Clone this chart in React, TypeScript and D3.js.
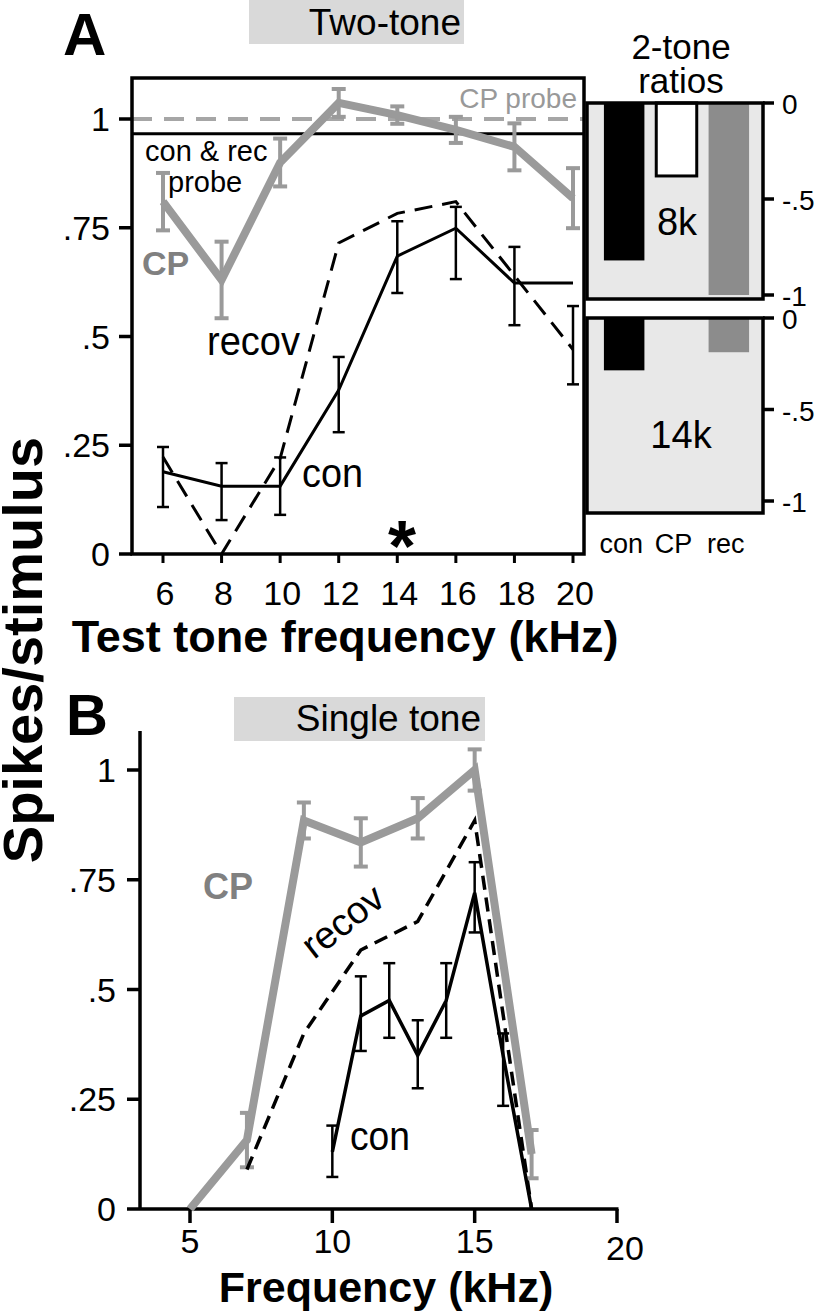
import React from 'react';
import * as d3 from 'd3';

// ---------- Panel A : two-tone ----------
const freqA = [6, 8, 10, 12, 14, 16, 18, 20];
const cpA = [0.81, 0.63, 0.9, 1.037, 1.009, 0.975, 0.936, 0.818];
const cpAErr = [0.066, 0.088, 0.055, 0.032, 0.02, 0.03, 0.054, 0.069];
const conA = [0.189, 0.156, 0.156, 0.377, 0.685, 0.749, 0.623, 0.623];
const conAErrLo = [0.108, 0.078, 0.09, 0.28, 0.6, 0.632, 0.526, 0.39];
const conAErrHi = [0.246, 0.209, 0.222, 0.453, 0.765, 0.798, 0.706, 0.57];
const recovAFreq = [6, 8, 10, 12, 14, 16, 20];
const recovA = [0.223, 0, 0.22, 0.715, 0.783, 0.81, 0.47];
const cpProbe = 1.0;
const conRecProbe = 0.966;
const yTicks = [0, 0.25, 0.5, 0.75, 1];
const yTickLabels = ['0', '.25', '.5', '.75', '1'];
const xTicksA = [6, 8, 10, 12, 14, 16, 18, 20];

// ---------- 2-tone ratio bars ----------
const ratioCats = ['con', 'CP', 'rec'];
const ratio8k = [-0.82, -0.38, -1.0];
const ratio14k = [-0.286, 0, -0.187];
const ratioTicks = [0, -0.5, -1];
const ratioTickLabels = ['0', '-.5', '-1'];
const ratioFills = ['#000000', '#ffffff', '#8c8c8c'];

// ---------- Panel B : single tone ----------
const freqBcp = [5, 7, 9, 11, 13, 15, 17];
const cpB = [0, 0.157, 0.885, 0.835, 0.89, 1.0, 0.125];
const cpBErr = [0, 0.062, 0.041, 0.055, 0.046, 0.047, 0.055];
const freqBcon = [10, 11, 12, 13, 14, 15, 16, 17];
const conB = [0.13, 0.44, 0.475, 0.35, 0.475, 0.72, 0.35, 0];
const conBErrLo = [0.073, 0.36, 0.39, 0.275, 0.39, 0.63, 0.235, NaN];
const conBErrHi = [0.19, 0.53, 0.56, 0.43, 0.56, 0.79, 0.4, NaN];
const freqBrec = [7, 9, 11, 13, 15, 17];
const recB = [0.09, 0.4, 0.59, 0.655, 0.885, 0];
const xTicksB = [5, 10, 15, 20];

const FONT = '"Liberation Sans", Arial, Helvetica, sans-serif';
const GRAY = '#9a9a9a';

function ErrBar({ x, y1, y2, cap, color, w }: any) {
  return (
    <g stroke={color} strokeWidth={w}>
      <line x1={x} x2={x} y1={y1} y2={y2} />
      <line x1={x - cap / 2} x2={x + cap / 2} y1={y1} y2={y1} />
      <line x1={x - cap / 2} x2={x + cap / 2} y1={y2} y2={y2} />
    </g>
  );
}

export default function App() {
  // scales panel A
  const xA = d3.scaleLinear().domain([6, 20]).range([163, 573]);
  const yA = d3.scaleLinear().domain([0, 1]).range([554, 119]);
  const boxA = { x0: 132, x1: 584, y0: 78, y1: 554 };

  const lineA = d3.line<[number, number]>().x((d) => xA(d[0])).y((d) => yA(d[1]));
  const cpAPath = lineA(freqA.map((f, i) => [f, cpA[i]]));
  const conAPath = lineA(freqA.map((f, i) => [f, conA[i]]));
  const recAPath = lineA(recovAFreq.map((f, i) => [f, recovA[i]]));

  // bars
  const xBar = d3.scaleBand().domain(ratioCats).range([598, 755]).paddingInner(0.2264).paddingOuter(0.113);
  const y8k = d3.scaleLinear().domain([0, -1]).range([103, 295]);
  const y14k = d3.scaleLinear().domain([0, -1]).range([318, 501]);
  const barPanels = [
    { y: y8k, top: 103, bottom: 299, vals: ratio8k, label: '8k', lx: 677, ly: 235 },
    { y: y14k, top: 318, bottom: 513, vals: ratio14k, label: '14k', lx: 681, ly: 448 },
  ];
  const frameX0 = 587;
  const frameX1 = 763;

  // scales panel B
  const xB = d3.scaleLinear().domain([5, 20]).range([190, 617]);
  const yB = d3.scaleLinear().domain([0, 1]).range([1209, 770]);
  const lineB = d3.line<[number, number]>().x((d) => xB(d[0])).y((d) => yB(d[1]));
  const cpBPath = lineB(freqBcp.map((f, i) => [f, cpB[i]]));
  const conBPath = lineB(freqBcon.map((f, i) => [f, conB[i]]));
  const recBPath = lineB(freqBrec.map((f, i) => [f, recB[i]]));
  const axisBx = 140;

  return (
    <svg
      width={819}
      height={1312}
      style={{ position: 'absolute', left: 0, top: 0, background: '#fff' }}
      fontFamily={FONT}
    >
      <rect x={0} y={0} width={819} height={1312} fill="#fff" />

      {/* ================= Panel A ================= */}
      <text x={63} y={55} fontSize={60} fontWeight="bold">A</text>
      <rect x={249} y={0} width={215} height={44} fill="#d9d9d9" />
      <text x={461} y={35} fontSize={37} textAnchor="end">Two-tone</text>

      {/* probe lines */}
      <line x1={boxA.x0} x2={boxA.x1} y1={yA(cpProbe)} y2={yA(cpProbe)} stroke="#a6a6a6" strokeWidth={4} strokeDasharray="20 12" />
      <line x1={boxA.x0} x2={boxA.x1} y1={yA(conRecProbe)} y2={yA(conRecProbe)} stroke="#000" strokeWidth={3} />
      <text x={577} y={108} fontSize={28} fill="#999" textAnchor="end">CP probe</text>
      <text x={145} y={161} fontSize={29}>con &amp; rec</text>
      <text x={168} y={192} fontSize={29}>probe</text>

      {/* box */}
      <rect x={boxA.x0} y={boxA.y0} width={boxA.x1 - boxA.x0} height={boxA.y1 - boxA.y0} fill="none" stroke="#000" strokeWidth={3.5} />

      {/* y ticks */}
      {yTicks.map((t, i) => (
        <g key={'ya' + i}>
          <line x1={boxA.x0 - 13} x2={boxA.x0} y1={yA(t)} y2={yA(t)} stroke="#000" strokeWidth={3.5} />
          <text x={110} y={yA(t)} dy="0.36em" fontSize={34} textAnchor="end">{yTickLabels[i]}</text>
        </g>
      ))}
      {/* x ticks */}
      {xTicksA.map((t) => (
        <g key={'xa' + t}>
          <line x1={xA(t)} x2={xA(t)} y1={boxA.y1} y2={boxA.y1 + 9} stroke="#000" strokeWidth={3} />
          <text x={xA(t) + 2} y={605} fontSize={34} textAnchor="middle">{t}</text>
        </g>
      ))}
      <text x={345} y={652} fontSize={45} fontWeight="bold" textAnchor="middle">Test tone frequency (kHz)</text>

      {/* CP line */}
      {freqA.map((f, i) => (
        <ErrBar key={'cpe' + f} x={xA(f)} y1={yA(cpA[i] + cpAErr[i])} y2={yA(cpA[i] - cpAErr[i])} cap={14} color={GRAY} w={4} />
      ))}
      <path d={cpAPath || ''} fill="none" stroke={GRAY} strokeWidth={8} strokeLinejoin="miter" />
      {/* con */}
      {freqA.map((f, i) => (
        <ErrBar key={'cne' + f} x={xA(f)} y1={yA(conAErrHi[i])} y2={yA(conAErrLo[i])} cap={12} color="#000" w={2.5} />
      ))}
      <path d={conAPath || ''} fill="none" stroke="#000" strokeWidth={3} />
      {/* recov */}
      <path d={recAPath || ''} fill="none" stroke="#000" strokeWidth={3} strokeDasharray="18 10" />

      <text x={142} y={275} fontSize={34} fontWeight="bold" fill="#808080">CP</text>
      <text x={207} y={355} fontSize={40} textLength={93} lengthAdjust="spacingAndGlyphs">recov</text>
      <text x={302} y={487} fontSize={40} textLength={61} lengthAdjust="spacingAndGlyphs">con</text>
      <text x={402} y={571} fontSize={72} fontWeight="bold" textAnchor="middle">*</text>

      {/* ================= Ratio bars ================= */}
      <text x={681} y={59} fontSize={35} textAnchor="middle">2-tone</text>
      <text x={681} y={93} fontSize={35} textAnchor="middle">ratios</text>
      {barPanels.map((p, pi) => (
        <g key={'bp' + pi}>
          <rect x={frameX0} y={p.top} width={frameX1 - frameX0} height={p.bottom - p.top} fill="#e8e8e8" />
          {ratioCats.map((c, i) =>
            p.vals[i] !== 0 ? (
              <rect
                key={c}
                x={xBar(c)}
                y={p.y(0)}
                width={xBar.bandwidth()}
                height={p.y(p.vals[i]) - p.y(0)}
                fill={ratioFills[i]}
                stroke={i === 1 ? '#000' : 'none'}
                strokeWidth={3}
              />
            ) : null
          )}
          <rect x={frameX0} y={p.top} width={frameX1 - frameX0} height={p.bottom - p.top} fill="none" stroke="#000" strokeWidth={3.5} />
          {ratioTicks.map((t, i) => (
            <g key={'rt' + i}>
              <line x1={frameX1} x2={frameX1 + 11} y1={p.y(t)} y2={p.y(t)} stroke="#000" strokeWidth={3.5} />
              <text x={782} y={p.y(t)} dy="0.4em" fontSize={28}>{ratioTickLabels[i]}</text>
            </g>
          ))}
          <text x={p.lx} y={p.ly} fontSize={38} textAnchor="middle">{p.label}</text>
        </g>
      ))}
      {ratioCats.map((c) => (
        <text key={'bl' + c} x={(xBar(c) || 0) + xBar.bandwidth() / 2 - 3} y={553} fontSize={27} textAnchor="middle">{c}</text>
      ))}

      {/* ================= Y axis title ================= */}
      <text transform="translate(42,650) rotate(-90)" fontSize={56} fontWeight="bold" textAnchor="middle">Spikes/stimulus</text>

      {/* ================= Panel B ================= */}
      <text x={66} y={735} fontSize={58} fontWeight="bold">B</text>
      <rect x={234} y={697} width={251} height={44} fill="#d9d9d9" />
      <text x={481} y={731} fontSize={37} textAnchor="end">Single tone</text>

      <line x1={axisBx} x2={axisBx} y1={731} y2={yB(0)} stroke="#000" strokeWidth={3.5} />
      <line x1={axisBx} x2={xB(20) + 1.5} y1={yB(0)} y2={yB(0)} stroke="#000" strokeWidth={3.5} />
      {yTicks.map((t, i) => (
        <g key={'yb' + i}>
          <line x1={axisBx - 13} x2={axisBx} y1={yB(t)} y2={yB(t)} stroke="#000" strokeWidth={3.5} />
          <text x={116} y={yB(t)} dy="0.36em" fontSize={34} textAnchor="end">{yTickLabels[i]}</text>
        </g>
      ))}
      {xTicksB.map((t) => (
        <g key={'xb' + t}>
          <line x1={xB(t)} x2={xB(t)} y1={yB(0)} y2={yB(0) + 14} stroke="#000" strokeWidth={3.5} />
          <text x={xB(t) + (t === 20 ? 8 : 0)} y={t === 20 ? 1260 : 1253} fontSize={34} textAnchor="middle">{t}</text>
        </g>
      ))}
      <text x={386} y={1302} fontSize={43} fontWeight="bold" textAnchor="middle">Frequency (kHz)</text>

      {/* CP */}
      {freqBcp.map((f, i) =>
        cpBErr[i] > 0 ? (
          <ErrBar key={'cpbe' + f} x={xB(f)} y1={yB(cpB[i] + cpBErr[i])} y2={yB(cpB[i] - cpBErr[i])} cap={14} color={GRAY} w={4} />
        ) : null
      )}
      <path d={cpBPath || ''} fill="none" stroke={GRAY} strokeWidth={8} strokeLinejoin="miter" strokeMiterlimit={6} />
      {/* con */}
      {freqBcon.map((f, i) =>
        !isNaN(conBErrLo[i]) ? (
          <ErrBar key={'cnbe' + f} x={xB(f)} y1={yB(conBErrHi[i])} y2={yB(conBErrLo[i])} cap={12} color="#000" w={2.5} />
        ) : null
      )}
      <path d={conBPath || ''} fill="none" stroke="#000" strokeWidth={3.5} />
      {/* recov */}
      <path d={recBPath || ''} fill="none" stroke="#000" strokeWidth={3.5} strokeDasharray="14 8" />

      <text x={203} y={899} fontSize={36} fontWeight="bold" fill="#808080">CP</text>
      <text transform="translate(314,960) rotate(-38)" fontSize={38}>recov</text>
      <text x={350} y={1150} fontSize={40} textLength={60} lengthAdjust="spacingAndGlyphs">con</text>
    </svg>
  );
}
